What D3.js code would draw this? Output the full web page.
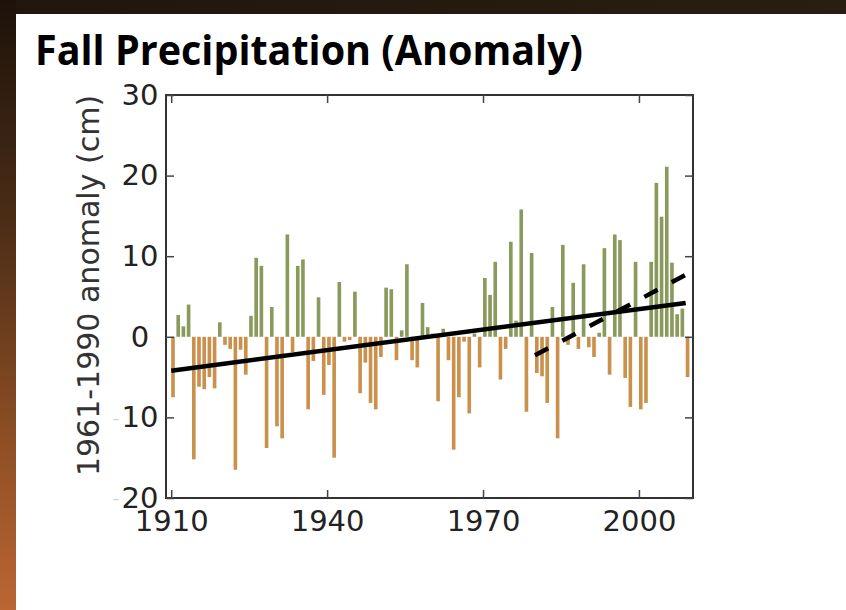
<!DOCTYPE html>
<html>
<head>
<meta charset="utf-8">
<script src="https://cdn.jsdelivr.net/npm/d3@7"></script>
<style>
  html, body { margin: 0; padding: 0; background: #fff; }
  svg { display: block; }
</style>
</head>
<body>
<svg id="chart" width="846" height="610"></svg>
<script>
// ---- data ----
const title = "Fall Precipitation (Anomaly)";
const yLabel = "1961-1990 anomaly (cm)";
const years = d3.range(1910, 2010);
const anomalies = [
  -7.5, 2.7, 1.3, 4.0, -15.2, -6.2, -6.5, -5.0, -6.4, 1.8,   // 1910-1919
  -1.0, -1.5, -16.5, -1.6, -4.7, 2.6, 9.8, 8.8, -13.8, 3.7,  // 1920-1929
  -11.1, -12.6, 12.7, -1.9, 8.8, 9.6, -9.0, -3.0, 4.9, -7.2, // 1930-1939
  -3.5, -15.0, 6.8, -0.6, -0.4, 5.6, -7.0, -3.2, -8.2, -9.0, // 1940-1949
  -2.5, 6.1, 5.9, -2.9, 0.8, 9.0, -2.9, -3.8, 4.2, 1.2,      // 1950-1959
  0.4, -8.0, 1.0, -2.9, -14.0, -7.5, -0.6, -9.5, 0.4, -3.8,  // 1960-1969
  7.3, 5.2, 9.3, -5.3, -1.5, 11.8, 2.0, 15.8, -9.3, 10.4,    // 1970-1979
  -4.5, -4.9, -8.2, 3.7, -12.6, 11.4, -1.0, 6.7, -1.5, 9.0,  // 1980-1989
  -1.3, -2.5, 0.5, 11.0, -4.7, 12.7, 12.0, -5.1, -8.7, 9.3,  // 1990-1999
  -9.0, -8.2, 9.3, 19.1, 14.9, 21.1, 9.2, 2.8, 3.5, -5.0     // 2000-2009
];
const trendLong = [[1910, -4.2], [2009, 4.2]];
const trendRecent = [[1980, -2.3], [2009, 7.7]];
const xTicks = [1910, 1940, 1970, 2000];
const yTicks = [-20, -10, 0, 10, 20, 30];

// ---- drawing ----
const svg = d3.select("#chart");
const W = 846, H = 610;

const defs = svg.append("defs");
const lg = defs.append("linearGradient").attr("id", "leftGrad")
  .attr("x1", 0).attr("y1", 0).attr("x2", 0).attr("y2", 1);
lg.append("stop").attr("offset", "0%").attr("stop-color", "#1d120a");
lg.append("stop").attr("offset", "35%").attr("stop-color", "#4a2c16");
lg.append("stop").attr("offset", "70%").attr("stop-color", "#8a4d24");
lg.append("stop").attr("offset", "100%").attr("stop-color", "#bb6633");
const tg = defs.append("linearGradient").attr("id", "topGrad")
  .attr("x1", 0).attr("y1", 0).attr("x2", 1).attr("y2", 0);
tg.append("stop").attr("offset", "0%").attr("stop-color", "#22160c");
tg.append("stop").attr("offset", "100%").attr("stop-color", "#2a1d12");

svg.append("rect").attr("x", 0).attr("y", 0).attr("width", W).attr("height", H).attr("fill", "#fff");
svg.append("rect").attr("x", 0).attr("y", 0).attr("width", W).attr("height", 14).attr("fill", "url(#topGrad)");
svg.append("rect").attr("x", 0).attr("y", 0).attr("width", 16).attr("height", H).attr("fill", "url(#leftGrad)");

svg.append("text")
  .attr("x", 35).attr("y", 65)
  .attr("font-family", "'Open Sans', 'Liberation Sans', sans-serif")
  .attr("font-weight", 700)
  .attr("font-size", 42)
  .attr("textLength", 548)
  .attr("lengthAdjust", "spacingAndGlyphs")
  .attr("fill", "#000")
  .text(title);

const pL = 166, pR = 693, pT = 95, pB = 498;
const x = d3.scaleLinear().domain([1909, 2010.4]).range([pL, pR]);
const y = d3.scaleLinear().domain([-20, 30]).range([pB, pT]);

const barW = 0.7;
const g = svg.append("g");

g.selectAll("rect.bar")
  .data(years.map((yr, i) => ({ yr, v: anomalies[i] })))
  .join("rect")
  .attr("class", "bar")
  .attr("x", d => x(d.yr))
  .attr("width", d => x(d.yr + barW) - x(d.yr))
  .attr("y", d => y(Math.max(0, d.v)))
  .attr("height", d => Math.abs(y(d.v) - y(0)))
  .attr("fill", d => d.v >= 0 ? "#8a9a5c" : "#c9914c");

const line = d3.line().x(d => x(d[0])).y(d => y(d[1]));
g.append("path").attr("d", line(trendLong))
  .attr("fill", "none").attr("stroke", "#000").attr("stroke-width", 4.5);
g.append("path").attr("d", line(trendRecent))
  .attr("fill", "none").attr("stroke", "#000").attr("stroke-width", 4.5)
  .attr("stroke-dasharray", "15,16");

svg.append("rect").attr("x", pL).attr("y", pT)
  .attr("width", pR - pL).attr("height", pB - pT)
  .attr("fill", "none").attr("stroke", "#333").attr("stroke-width", 2);

const tickFont = "'DejaVu Sans', 'Liberation Sans', sans-serif";

const xAxis = svg.append("g").attr("transform", `translate(0,${pB})`)
  .call(d3.axisBottom(x).tickValues(xTicks).tickFormat(d3.format("d"))
    .tickSizeInner(-8).tickSizeOuter(0).tickPadding(12));
xAxis.select(".domain").remove();
xAxis.selectAll("line").attr("stroke", "#444").attr("stroke-width", 1.5);
xAxis.selectAll("text").attr("font-family", tickFont).attr("font-size", 29)
  .attr("fill", "#222").attr("y", 12);

const xTop = svg.append("g").attr("transform", `translate(0,${pT})`)
  .call(d3.axisTop(x).tickValues(xTicks).tickFormat("").tickSizeInner(-8).tickSizeOuter(0));
xTop.select(".domain").remove();
xTop.selectAll("line").attr("stroke", "#444").attr("stroke-width", 1.5);

const yAxis = svg.append("g").attr("transform", `translate(${pL},0)`)
  .call(d3.axisLeft(y).tickValues(yTicks).tickFormat(d => String(Math.abs(d)))
    .tickSizeInner(-8).tickSizeOuter(0));
yAxis.select(".domain").remove();
yAxis.selectAll("line").attr("stroke", "#444").attr("stroke-width", 1.5);
yAxis.selectAll("text").attr("font-family", tickFont).attr("font-size", 29)
  .attr("fill", "#222").attr("text-anchor", "middle").attr("x", -26);
yAxis.selectAll(".tick").filter(d => d < 0).append("text")
  .attr("x", -50).attr("dy", "0.32em")
  .attr("font-family", tickFont).attr("font-size", 18)
  .attr("fill", "#d4d4d4").attr("text-anchor", "middle").text("-");

const yRight = svg.append("g").attr("transform", `translate(${pR},0)`)
  .call(d3.axisRight(y).tickValues(yTicks).tickFormat("").tickSizeInner(-8).tickSizeOuter(0));
yRight.select(".domain").remove();
yRight.selectAll("line").attr("stroke", "#444").attr("stroke-width", 1.5);

svg.append("text")
  .attr("transform", `translate(88,${(pT + pB) / 2 - 11}) rotate(-90)`)
  .attr("text-anchor", "middle").attr("dominant-baseline", "central")
  .attr("font-family", tickFont).attr("font-size", 30).attr("fill", "#333")
  .text(yLabel);
</script>
</body>
</html>
